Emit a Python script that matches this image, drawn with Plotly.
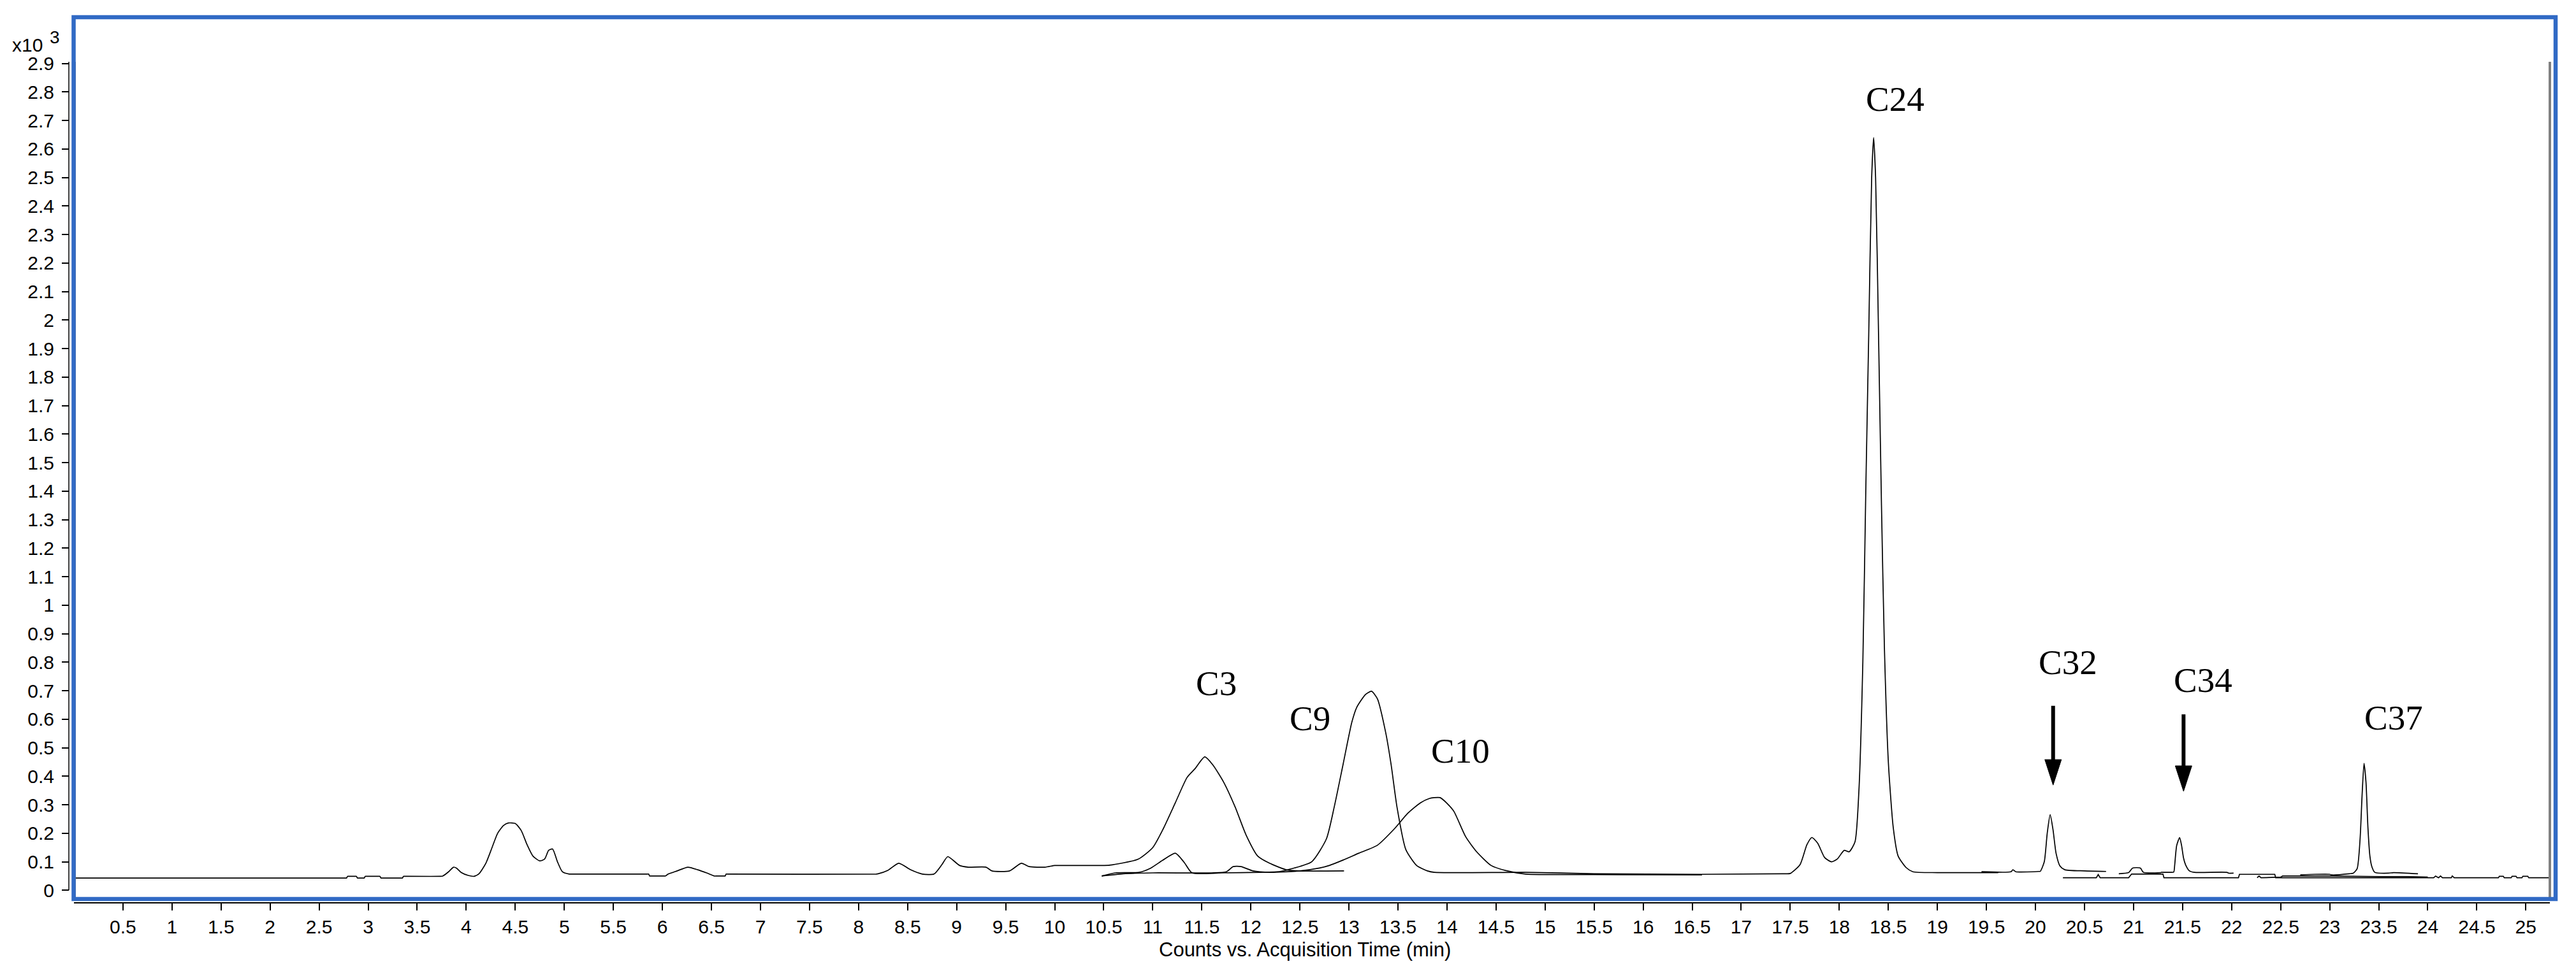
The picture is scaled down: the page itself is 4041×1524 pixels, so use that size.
import plotly.graph_objects as go

# ---------------- data (time in min, counts in x10^3) ----------------
trace_a = [(0, 0.043), (2.77, 0.043), (2.78, 0.043), (2.79, 0.049), (2.8, 0.049), (2.87, 0.049),
           (2.88, 0.049), (2.89, 0.043), (2.9, 0.043), (2.95, 0.043), (2.96, 0.043), (2.97, 0.049),
           (2.98, 0.049), (3.11, 0.049), (3.12, 0.049), (3.13, 0.043), (3.14, 0.043), (3.34, 0.043),
           (3.35, 0.043), (3.36, 0.049), (3.37, 0.049), (3.74, 0.049), (3.76, 0.05),
           (3.82, 0.065), (3.87, 0.081), (3.9, 0.078), (3.95, 0.062), (4.02, 0.052), (4.08, 0.049),
           (4.13, 0.058), (4.2, 0.095), (4.26, 0.147), (4.32, 0.2), (4.38, 0.227), (4.43, 0.236),
           (4.5, 0.234), (4.56, 0.21), (4.62, 0.16), (4.68, 0.12), (4.75, 0.103), (4.8, 0.11),
           (4.84, 0.14), (4.88, 0.145), (4.93, 0.1), (4.98, 0.065), (5.05, 0.057), (5.1, 0.057),
           (5.85, 0.057), (5.86, 0.057), (5.87, 0.05), (5.88, 0.05), (6.02, 0.05), (6.03, 0.05),
           (6.06, 0.057), (6.15, 0.068), (6.26, 0.081), (6.36, 0.072), (6.45, 0.061), (6.53, 0.05),
           (6.55, 0.05), (6.63, 0.05), (6.64, 0.05), (6.65, 0.057), (6.66, 0.057), (8.18, 0.057),
           (8.2, 0.058), (8.3, 0.07), (8.41, 0.095), (8.53, 0.072), (8.65, 0.057), (8.77, 0.057),
           (8.85, 0.09), (8.91, 0.118), (9.03, 0.087), (9.12, 0.081), (9.3, 0.081), (9.36, 0.068),
           (9.54, 0.068), (9.66, 0.095), (9.74, 0.083), (9.9, 0.081), (10.0, 0.087), (10.05, 0.087),
           (10.5, 0.087), (10.56, 0.088), (10.85, 0.109), (11.0, 0.15),
           (11.11, 0.218), (11.23, 0.307), (11.35, 0.396), (11.43, 0.426), (11.53, 0.468),
           (11.61, 0.441), (11.72, 0.381), (11.84, 0.292), (11.95, 0.195), (12.07, 0.12),
           (12.19, 0.095), (12.36, 0.072), (12.48, 0.068), (12.95, 0.068)]

trace_b = [(10.48, 0.05), (10.62, 0.061), (10.86, 0.063), (10.98, 0.078), (11.1, 0.105), (11.23, 0.13),
           (11.32, 0.098), (11.4, 0.061), (11.7, 0.061), (12.1, 0.063), (12.3, 0.066), (12.42, 0.076),
           (12.62, 0.1), (12.77, 0.18), (12.85, 0.292), (12.94, 0.441), (13.03, 0.59), (13.08, 0.642),
           (13.17, 0.687), (13.23, 0.698), (13.29, 0.672), (13.375, 0.553), (13.43, 0.441),
           (13.49, 0.292), (13.58, 0.143), (13.69, 0.087), (13.8, 0.068), (13.87, 0.063),
           (14.8, 0.063), (15.5, 0.058), (16.6, 0.056)]

trace_c = [(10.48, 0.05), (10.7, 0.058), (11.0, 0.061), (11.6, 0.061), (11.75, 0.065), (11.82, 0.083),
           (11.9, 0.083), (12.02, 0.068), (12.2, 0.063), (12.5, 0.068), (12.7, 0.078), (12.8, 0.087),
           (12.94, 0.106), (13.1, 0.13), (13.29, 0.158), (13.47, 0.218), (13.6, 0.27), (13.73, 0.307),
           (13.82, 0.322), (13.87, 0.325), (13.93, 0.325), (14.0, 0.305), (14.07, 0.277),
           (14.19, 0.188), (14.3, 0.136), (14.45, 0.087), (14.6, 0.069), (14.8, 0.057),
           (15.5, 0.055), (16.6, 0.054)]

trace_d = [(16.6, 0.056), (17.45, 0.058), (17.5, 0.059), (17.6, 0.09), (17.67, 0.16), (17.72, 0.185),
           (17.78, 0.165), (17.85, 0.115), (17.92, 0.1), (17.98, 0.11), (18.05, 0.14), (18.1, 0.135),
           (18.16, 0.17), (18.2, 0.35), (18.24, 0.8), (18.27, 1.4), (18.3, 1.95), (18.33, 2.5),
           (18.35, 2.64), (18.37, 2.5), (18.4, 1.95), (18.43, 1.35), (18.46, 0.85), (18.5, 0.45),
           (18.55, 0.22), (18.6, 0.12), (18.68, 0.08), (18.75, 0.065), (19.0, 0.062), (19.62, 0.062)]

trace_e = [(19.45, 0.065), (19.75, 0.065), (19.77, 0.072), (19.8, 0.065), (20.03, 0.066), (20.05, 0.067),
           (20.09, 0.1), (20.12, 0.2), (20.15, 0.265), (20.18, 0.21), (20.21, 0.13), (20.25, 0.085),
           (20.3, 0.072), (20.5, 0.068), (20.72, 0.066)]

trace_f = [(20.28, 0.044), (20.62, 0.044), (20.64, 0.055), (20.66, 0.044), (20.95, 0.044), (20.98, 0.057),
           (21.3, 0.057), (21.31, 0.044), (22.07, 0.044), (22.08, 0.056), (22.44, 0.056), (22.45, 0.044),
           (24.06, 0.044), (24.08, 0.05), (24.11, 0.044), (24.13, 0.05), (24.15, 0.044), (24.24, 0.044),
           (24.25, 0.05), (24.27, 0.044), (24.72, 0.044), (24.73, 0.049), (24.77, 0.049),
           (24.78, 0.044), (24.85, 0.044), (24.86, 0.049), (24.9, 0.049), (24.91, 0.044),
           (24.96, 0.044), (24.97, 0.049), (25.02, 0.049), (25.03, 0.044), (25.245, 0.044)]

trace_g = [(20.85, 0.058), (20.95, 0.062), (20.99, 0.078), (21.07, 0.078), (21.1, 0.063), (21.28, 0.062)]

trace_h = [(21.28, 0.063), (21.38, 0.063), (21.41, 0.064), (21.42, 0.09), (21.44, 0.157), (21.47, 0.185),
           (21.49, 0.157), (21.51, 0.113), (21.53, 0.09), (21.57, 0.068), (21.62, 0.063), (21.95, 0.063),
           (21.97, 0.06), (22.02, 0.06)]

trace_i = [(22.7, 0.054), (22.85, 0.056), (23.0, 0.056), (23.02, 0.054), (23.2, 0.058), (23.24, 0.06),
           (23.28, 0.076), (23.31, 0.18), (23.33, 0.33), (23.35, 0.445), (23.37, 0.38), (23.39, 0.22),
           (23.41, 0.12), (23.43, 0.083), (23.46, 0.063), (23.6, 0.06), (23.65, 0.062), (23.9, 0.058)]

trace_j = [(22.26, 0.044), (22.28, 0.05), (22.3, 0.044), (22.5, 0.046), (22.52, 0.05), (23.0, 0.05),
           (23.5, 0.048), (23.8, 0.048), (24.0, 0.046)]

traces = [trace_a, trace_b, trace_c, trace_d, trace_e, trace_f, trace_g, trace_h, trace_i, trace_j]
smooth_traces = [True, True, True, True, True, False, True, True, True, False]

label_text = ["C3", "C9", "C10", "C24", "C32", "C34", "C37"]
label_x = [11.65, 12.6, 14.14, 18.57, 20.33, 21.71, 23.65]
label_y = [0.725, 0.604, 0.49, 2.776, 0.80, 0.738, 0.606]

arrow_x = [20.18, 21.51]
arrow_tip = [0.369, 0.347]
arrow_top = [0.647, 0.617]

x_tick_vals = [i * 0.5 for i in range(1, 51)]
x_tick_text = [("%g" % v) for v in x_tick_vals]
y_tick_vals = [round(i * 0.1, 1) for i in range(0, 30)]
y_tick_text = [("%g" % v) for v in y_tick_vals]

X_RANGE = [0, 25.245]
Y_RANGE = [-0.0306, 2.9057]

# ---------------- layout geometry ----------------
W, H = 4041, 1524
M_L, M_R, M_T, M_B = 108, 41, 97, 107
PW = W - M_L - M_R
PH = H - M_T - M_B


def px_x(p):
    return (p - M_L) / PW


def px_y(p):
    return (H - M_B - p) / PH


BLUE = "#316AC5"
GRAY = "#808080"
SANS = "Arial, Liberation Sans, sans-serif"
SERIF = "Times New Roman, Liberation Serif, serif"

fig = go.Figure()
for tr, sm in zip(traces, smooth_traces):
    fig.add_trace(go.Scatter(
        x=[p[0] for p in tr], y=[p[1] for p in tr], mode="lines",
        line=dict(color="black", width=1.7, shape="spline" if sm else "linear", smoothing=0.6),
        hoverinfo="skip", showlegend=False))

shapes = []
# y axis line (from 0 to top)
shapes.append(dict(type="line", xref="paper", yref="y", x0=0, x1=0, y0=0, y1=Y_RANGE[1],
                   line=dict(color="black", width=1.5), layer="above"))
# gray plot edges
shapes.append(dict(type="line", xref="paper", yref="paper", x0=px_x(117.5), x1=px_x(117.5),
                   y0=px_y(1413), y1=px_y(97), line=dict(color=GRAY, width=3), layer="above"))
shapes.append(dict(type="line", xref="paper", yref="paper", x0=px_x(4000), x1=px_x(4000),
                   y0=px_y(1413), y1=px_y(97), line=dict(color=GRAY, width=4), layer="above"))
# blue frame
shapes.append(dict(type="rect", xref="paper", yref="paper", x0=px_x(115.5), x1=px_x(4009),
                   y0=px_y(1411), y1=px_y(27), line=dict(color=BLUE, width=6.5),
                   fillcolor="rgba(0,0,0,0)", layer="above"))
# arrows
for ax, tip, top in zip(arrow_x, arrow_tip, arrow_top):
    shapes.append(dict(type="line", xref="x", yref="y", x0=ax, x1=ax, y0=tip + 30 / 447.5, y1=top,
                       line=dict(color="black", width=6)))
    shapes.append(dict(type="path", xref="x", yref="y", xsizemode="pixel", ysizemode="pixel",
                       xanchor=ax, yanchor=tip, path="M 0,0 L -13,40 L 13,40 Z",
                       fillcolor="black", line=dict(color="black", width=1)))

annotations = []
for t, lx, ly in zip(label_text, label_x, label_y):
    annotations.append(dict(x=lx, y=ly, xref="x", yref="y", text=t, showarrow=False,
                            xanchor="center", yanchor="middle",
                            font=dict(family=SERIF, size=55, color="black")))
annotations.append(dict(x=0, y=1, xref="paper", yref="paper", text="x10", showarrow=False,
                        xanchor="left", yanchor="middle", xshift=17 - M_L, yshift=97 - 70,
                        font=dict(family=SANS, size=30, color="black")))
annotations.append(dict(x=0, y=1, xref="paper", yref="paper", text="3", showarrow=False,
                        xanchor="left", yanchor="middle", xshift=76 - M_L, yshift=97 - 58,
                        font=dict(family=SANS, size=28, color="black")))
annotations.append(dict(x=px_x(2047), y=0, xref="paper", yref="paper",
                        text="Counts vs. Acquisition Time (min)", showarrow=False,
                        xanchor="center", yanchor="middle", yshift=-(1490 - (H - M_B)),
                        font=dict(family=SANS, size=31, color="black")))

fig.update_layout(
    width=W, height=H,
    margin=dict(l=M_L, r=M_R, t=M_T, b=M_B, pad=0),
    paper_bgcolor="white", plot_bgcolor="white",
    showlegend=False,
    xaxis=dict(domain=[8 / PW, 1], range=X_RANGE, anchor="free", position=0,
               showgrid=False, zeroline=False, showline=True, linecolor="black", linewidth=1.5,
               ticks="outside", ticklen=11, tickwidth=1.5, tickcolor="black",
               tickvals=x_tick_vals, ticktext=x_tick_text,
               tickfont=dict(family=SANS, size=30, color="black")),
    yaxis=dict(domain=[6 / PH, 1], range=Y_RANGE, anchor="free", position=0,
               showgrid=False, zeroline=False, showline=False,
               ticks="outside", ticklen=11, tickwidth=1.5, tickcolor="black",
               tickvals=y_tick_vals, ticktext=y_tick_text, ticklabelstandoff=6,
               tickfont=dict(family=SANS, size=30, color="black")),
    shapes=shapes,
    annotations=annotations,
)

fig.write_html("out.html", config={"displayModeBar": False},
               post_script="document.body.style.margin='0px';document.body.style.overflow='hidden';")
